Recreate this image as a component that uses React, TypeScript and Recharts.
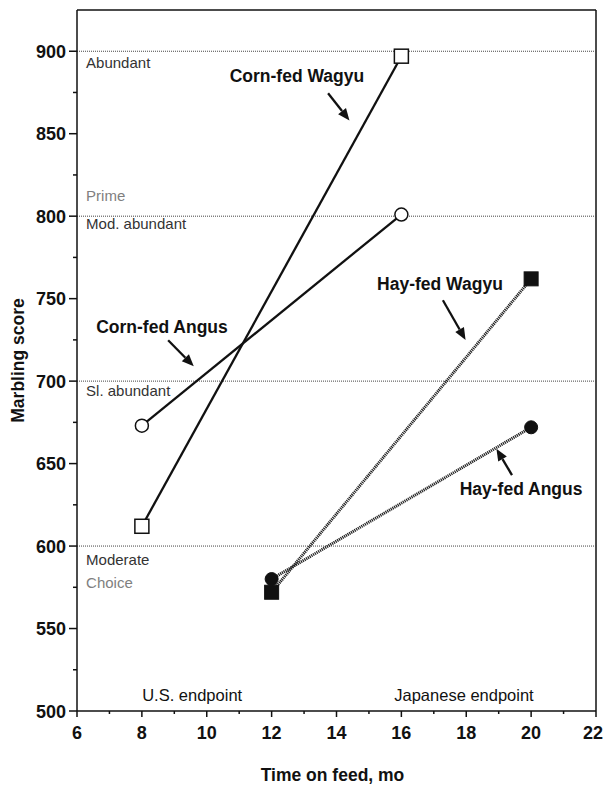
import React from "react";
import {
  LineChart,
  Line,
  XAxis,
  YAxis,
  ReferenceLine,
  ReferenceDot,
} from "recharts";

// Series values (months on feed, marbling score)
const cornWagyu = [
  { x: 8, y: 612 },
  { x: 16, y: 897 },
];
const cornAngus = [
  { x: 8, y: 673 },
  { x: 16, y: 801 },
];
const hayWagyu = [
  { x: 12, y: 572 },
  { x: 20, y: 762 },
];
const hayAngus = [
  { x: 12, y: 580 },
  { x: 20, y: 672 },
];

const xTicks = [6, 7, 8, 9, 10, 11, 12, 13, 14, 15, 16, 17, 18, 19, 20, 21, 22];
const yTicks = [500, 525, 550, 575, 600, 625, 650, 675, 700, 725, 750, 775, 800, 825, 850, 875, 900];

// dotted marbling grade lines
const gradeLines = [900, 800, 700, 600];

// text placed under / over the grade lines
const gradeLabels = [
  { text: "Abundant", y: 893, grey: false },
  { text: "Prime", y: 812, grey: true },
  { text: "Mod. abundant", y: 795, grey: false },
  { text: "Sl. abundant", y: 694, grey: false },
  { text: "Moderate", y: 591.5, grey: false },
  { text: "Choice", y: 577.5, grey: true },
];

// series names with their arrows
const callouts = [
  { text: "Corn-fed Wagyu", x: 12.78, y: 885, from: [13.74, 874.5], to: [14.4, 858] },
  { text: "Corn-fed Angus", x: 8.62, y: 733, from: [8.81, 724.8], to: [9.6, 709] },
  { text: "Hay-fed Wagyu", x: 17.19, y: 759, from: [17.28, 749], to: [17.98, 725] },
  { text: "Hay-fed Angus", x: 19.69, y: 634.5, from: [19.41, 643], to: [18.93, 659] },
];

const endpoints = [
  { text: "U.S. endpoint", x: 9.55, y: 509.7 },
  { text: "Japanese endpoint", x: 17.93, y: 509.7 },
];

const FONT = "'Liberation Sans', Arial, Helvetica, sans-serif";
const INK = "#111";

const YTick = (p: any) => {
  const { x, y, payload } = p;
  const major = payload.value % 50 === 0;
  return (
    <g>
      <line x1={x - (major ? 8 : 4)} x2={x} y1={y} y2={y} stroke={INK} strokeWidth={1.5} />
      {major && (
        <text x={x - 11} y={y} dy={6.5} textAnchor="end" fontFamily={FONT} fontWeight="bold" fontSize={18} fill={INK}>
          {payload.value}
        </text>
      )}
    </g>
  );
};

const XTick = (p: any) => {
  const { x, y, payload } = p;
  const major = payload.value % 2 === 0;
  // last label sits on the page edge; keep it inside
  const last = payload.value === xTicks[xTicks.length - 1];
  return (
    <g>
      <line x1={x} x2={x} y1={y} y2={y + (major ? 6 : 3)} stroke={INK} strokeWidth={1.5} />
      {major && (
        <text
          x={last ? 603 : x}
          y={y + 27.5}
          textAnchor={last ? "end" : "middle"}
          fontFamily={FONT}
          fontWeight="bold"
          fontSize={18}
          fill={INK}
        >
          {payload.value}
        </text>
      )}
    </g>
  );
};

const OpenSquare = (p: any) => (
  <rect x={p.cx - 7} y={p.cy - 7} width={14} height={14} fill="#fff" stroke={INK} strokeWidth={1.5} />
);
const FilledSquare = (p: any) => (
  <rect x={p.cx - 7} y={p.cy - 7} width={14} height={14} fill={INK} stroke={INK} strokeWidth={1} />
);
const OpenCircle = (p: any) => (
  <circle cx={p.cx} cy={p.cy} r={6.5} fill="#fff" stroke={INK} strokeWidth={1.5} />
);
const FilledCircle = (p: any) => <circle cx={p.cx} cy={p.cy} r={6.5} fill={INK} stroke={INK} />;

const Arrow = (p: any) => {
  const { x1, y1, x2, y2 } = p;
  const ang = Math.atan2(y2 - y1, x2 - x1);
  const len = 12;
  const w = 5;
  const bx = x2 - len * Math.cos(ang);
  const by = y2 - len * Math.sin(ang);
  const nx = -Math.sin(ang) * w;
  const ny = Math.cos(ang) * w;
  return (
    <g>
      <line x1={x1} y1={y1} x2={bx} y2={by} stroke={INK} strokeWidth={2.3} />
      <polygon points={`${x2},${y2} ${bx + nx},${by + ny} ${bx - nx},${by - ny}`} fill={INK} />
    </g>
  );
};

export default function App() {
  return (
    <div style={{ position: "fixed", left: 0, top: 0, background: "#fff" }}>
      <LineChart width={604} height={788} margin={{ top: 10, right: 8, left: 17, bottom: 37 }}>
        <XAxis
          type="number"
          dataKey="x"
          domain={[6, 22]}
          ticks={xTicks}
          interval={0}
          tickSize={0}
          tickMargin={0}
          tick={<XTick />}
          height={40}
          axisLine={{ stroke: INK, strokeWidth: 1.5 }}
          allowDataOverflow
          label={(props: any) => {
            const vb = props.viewBox;
            return (
              <text x={vb.x + vb.width / 2 - 4} y={vb.y + 70} textAnchor="middle" fontFamily={FONT} fontWeight="bold" fontSize={17.5} fill={INK}>
                Time on feed, mo
              </text>
            );
          }}
        />
        <YAxis
          type="number"
          dataKey="y"
          domain={[500, 925]}
          ticks={yTicks}
          interval={0}
          tickSize={0}
          tickMargin={0}
          tick={<YTick />}
          width={60}
          axisLine={{ stroke: INK, strokeWidth: 1.5 }}
          allowDataOverflow
          label={(props: any) => {
            const vb = props.viewBox;
            const cy = vb.y + vb.height / 2;
            return (
              <text x={24} y={cy} transform={`rotate(-90 24 ${cy})`} textAnchor="middle" fontFamily={FONT} fontWeight="bold" fontSize={17.5} fill={INK}>
                Marbling score
              </text>
            );
          }}
        />

        {/* frame top and right */}
        <ReferenceLine y={925} stroke={INK} strokeWidth={1.5} ifOverflow="visible" />
        <ReferenceLine x={22} stroke={INK} strokeWidth={1.5} ifOverflow="visible" />

        {gradeLines.map((v) => (
          <ReferenceLine key={v} y={v} stroke="#444" strokeWidth={1} strokeDasharray="1 1" />
        ))}

        {gradeLabels.map((g) => (
          <ReferenceDot
            key={g.text}
            x={6.28}
            y={g.y}
            r={0}
            shape={(p: any) => (
              <text x={p.cx} y={p.cy} dy={5} textAnchor="start" fontFamily={FONT} fontSize={15} fill={g.grey ? "#808080" : "#333"}>
                {g.text}
              </text>
            )}
          />
        ))}

        {endpoints.map((e) => (
          <ReferenceDot
            key={e.text}
            x={e.x}
            y={e.y}
            r={0}
            shape={(p: any) => (
              <text x={p.cx} y={p.cy} dy={6} textAnchor="middle" fontFamily={FONT} fontSize={16.5} fill={INK}>
                {e.text}
              </text>
            )}
          />
        ))}

        <Line data={hayWagyu} dataKey="y" stroke="#222" strokeWidth={3} strokeDasharray="1.2 0.8" dot={<FilledSquare />} isAnimationActive={false} />
        <Line data={hayAngus} dataKey="y" stroke="#222" strokeWidth={3} strokeDasharray="1.2 0.8" dot={<FilledCircle />} isAnimationActive={false} />
        <Line data={cornWagyu} dataKey="y" stroke={INK} strokeWidth={2.3} dot={<OpenSquare />} isAnimationActive={false} />
        <Line data={cornAngus} dataKey="y" stroke={INK} strokeWidth={2.3} dot={<OpenCircle />} isAnimationActive={false} />

        {callouts.map((c) => (
          <ReferenceLine
            key={c.text + "-arrow"}
            segment={[
              { x: c.from[0], y: c.from[1] },
              { x: c.to[0], y: c.to[1] },
            ]}
            shape={<Arrow />}
          />
        ))}
        {callouts.map((c) => (
          <ReferenceDot
            key={c.text}
            x={c.x}
            y={c.y}
            r={0}
            shape={(p: any) => (
              <text x={p.cx} y={p.cy} dy={6} textAnchor="middle" fontFamily={FONT} fontWeight="bold" fontSize={17.5} fill={INK}>
                {c.text}
              </text>
            )}
          />
        ))}
      </LineChart>
    </div>
  );
}
